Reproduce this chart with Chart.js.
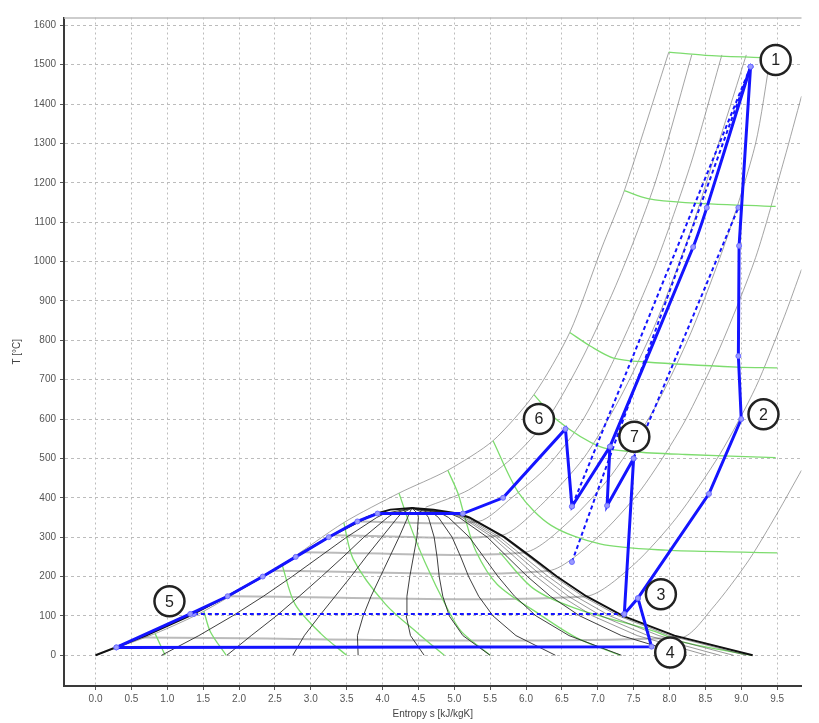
<!DOCTYPE html>
<html>
<head>
<meta charset="utf-8">
<script src="https://cdn.jsdelivr.net/npm/chart.js@4.4.1/dist/chart.umd.min.js"></script>
<style>
  html, body { margin: 0; padding: 0; background: #fff; }
  #wrap { width: 819px; height: 723px; }
</style>
</head>
<body>
<div id="wrap"><canvas id="ts" width="819" height="723"></canvas></div>
<script>
// ---- axis ticks ----
const xTicks = [0, 0.5, 1, 1.5, 2, 2.5, 3, 3.5, 4, 4.5, 5, 5.5, 6, 6.5, 7, 7.5, 8, 8.5, 9, 9.5];
const yTicks = [0, 100, 200, 300, 400, 500, 600, 700, 800, 900, 1000, 1100, 1200, 1300, 1400, 1500, 1600];

// ---- saturation dome (s in kJ/kgK, T in degC) ----
const domeS = [0.00, 0.70, 1.31, 1.84, 2.33, 2.79, 3.25, 3.78, 3.92, 4.11, 4.41, 4.71, 5.05, 5.21, 5.70, 6.07, 6.43, 6.84, 7.35, 8.07, 9.16];
const domeT = [0, 50, 100, 150, 200, 250, 300, 350, 360, 370, 374, 370, 360, 350, 300, 250, 200, 150, 100, 50, 0];

// ---- constant quality lines inside the dome ----
const qualT = [0, 50, 100, 150, 200, 250, 300, 350, 360, 374];
const q10S = [0.92, 1.44, 1.91, 2.34, 2.74, 3.12, 3.50, 3.92, 4.03, 4.41];
const q20S = [1.83, 2.17, 2.52, 2.84, 3.15, 3.45, 3.74, 4.07, 4.15, 4.41];
const q30S = [2.75, 2.91, 3.12, 3.34, 3.56, 3.77, 3.99, 4.21, 4.26, 4.41];
const q40S = [3.66, 3.65, 3.73, 3.84, 3.97, 4.10, 4.23, 4.35, 4.37, 4.41];
const q50S = [4.58, 4.39, 4.33, 4.34, 4.38, 4.43, 4.48, 4.50, 4.49, 4.41];
const q60S = [5.50, 5.12, 4.93, 4.84, 4.79, 4.76, 4.72, 4.64, 4.60, 4.41];
const q70S = [6.41, 5.86, 5.54, 5.34, 5.20, 5.09, 4.97, 4.78, 4.71, 4.41];
const q80S = [7.33, 6.60, 6.14, 5.84, 5.61, 5.41, 5.21, 4.92, 4.82, 4.41];
const q90S = [8.24, 7.33, 6.75, 6.34, 6.02, 5.74, 5.46, 5.07, 4.94, 4.41];
const q93S = [8.52, 7.55, 6.93, 6.49, 6.14, 5.84, 5.53, 5.11, 4.97, 4.41];
const q95S = [8.70, 7.70, 7.05, 6.59, 6.23, 5.91, 5.58, 5.14, 4.99, 4.41];
const q97S = [8.89, 7.85, 7.17, 6.69, 6.31, 5.97, 5.63, 5.17, 5.02, 4.41];
const q99S = [9.07, 8.00, 7.29, 6.79, 6.39, 6.04, 5.68, 5.20, 5.04, 4.41];

// ---- isobars (grey) ----
const p1S = [0.00, 0.83, 1.51, 2.60, 3.46, 4.23, 4.91, 5.54, 6.11, 6.61, 7.06, 7.37, 7.99];
const p1T = [0, 55, 112, 230, 337, 412, 470, 545, 662, 820, 1037, 1180, 1532];
const p2S = [4.60, 5.20, 5.80, 6.30, 6.80, 7.30, 7.80, 8.31];
const p2T = [376, 420, 500, 600, 760, 960, 1200, 1525];
const p3S = [3.66, 5.34, 5.80, 6.30, 6.80, 7.30, 7.80, 8.30, 8.73];
const p3T = [340, 340, 400, 480, 600, 780, 990, 1250, 1525];
const p4S = [3.30, 5.66, 6.20, 6.80, 7.30, 7.80, 8.30, 8.70, 9.07];
const p4T = [305, 305, 380, 500, 650, 840, 1080, 1310, 1525];
const p5S = [2.89, 5.99, 6.60, 7.20, 7.80, 8.30, 8.80, 9.20, 9.41];
const p5T = [262, 262, 340, 460, 630, 820, 1060, 1300, 1525];
const p6S = [2.47, 6.32, 7.00, 7.60, 8.20, 8.70, 9.20, 9.60, 9.84];
const p6T = [215, 215, 300, 420, 590, 780, 1010, 1260, 1420];
const p7S = [1.84, 6.84, 7.50, 8.10, 8.70, 9.20, 9.60, 9.84];
const p7T = [150, 150, 230, 350, 510, 680, 860, 980];
const p8S = [0.64, 8.16, 8.60, 9.10, 9.50, 9.84];
const p8T = [45, 45, 120, 240, 360, 470];

// ---- isenthalps (green) ----
const h1S = [7.99, 8.50, 9.27];
const h1T = [1532, 1524, 1518];
const h2S = [7.37, 7.70, 8.22, 9.48];
const h2T = [1180, 1160, 1150, 1140];
const h3S = [6.61, 6.90, 7.22, 7.67, 8.94, 9.50];
const h3T = [820, 785, 755, 745, 732, 730];
const h4S = [6.11, 6.45, 7.03, 7.50, 8.22, 9.48];
const h4T = [662, 595, 530, 517, 510, 502];
const h5S = [5.54, 5.90, 6.35, 7.03, 7.95, 9.03, 9.50];
const h5T = [545, 412, 330, 283, 267, 262, 260];
const h6S = [4.91, 5.05, 5.14, 5.30, 5.60, 6.18, 6.70, 7.31];
const h6T = [470, 412, 355, 265, 180, 105, 45, 0];
const h7S = [4.23, 4.37, 4.59, 4.90, 5.10, 5.50];
const h7T = [412, 337, 237, 120, 60, 0];
const h8S = [3.46, 3.59, 4.04, 4.50, 4.86];
const h8T = [337, 245, 130, 55, 0];
const h9S = [2.60, 2.78, 3.14, 3.50];
const h9T = [230, 130, 55, 0];
const h10S = [1.51, 1.60, 1.82];
const h10T = [112, 60, 0];
const h11S = [0.83, 0.97];
const h11T = [55, 0];
const h12S = [5.63, 6.10, 6.68, 7.77, 8.22, 9.14];
const h12T = [262, 170, 120, 62, 32, 0];

// ---- cycle (blue) ----
const cycleS = [0.29, 1.32, 1.84, 2.33, 2.79, 3.25, 3.65, 3.93, 5.12, 5.68, 6.55, 6.64, 7.17, 7.13, 7.50, 7.37, 7.56, 7.75, 0.29];
const cycleT = [20, 105, 150, 200, 250, 300, 340, 360, 360, 400, 575, 378, 530, 380, 500, 105, 145, 22, 20];
const heatS = [7.56, 8.55, 9.00, 8.96, 8.97, 9.13];
const heatT = [145, 410, 600, 760, 1040, 1495];
const expS = [9.13, 8.52, 8.33, 7.17];
const expT = [1495, 1137, 1037, 530];
const dashLowS = [1.37, 7.37];
const dashLowT = [105, 105];
const dashAS = [9.13, 6.64];
const dashAT = [1495, 378];
const dashCS = [6.64, 9.13];
const dashCT = [237, 1495];
const dashBS = [7.50, 8.96];
const dashBT = [500, 1137];

// ---- state labels ----
const stateNames = ['1', '2', '3', '4', '5', '6', '7'];
const stateS = [9.48, 9.31, 7.88, 8.01, 1.03, 6.18, 7.51];
const stateT = [1512, 612, 155, 7, 137, 600, 555];

const pts = (s, t) => s.map((v, i) => ({ x: v, y: t[i] }));

const line = (s, t, color, width, extra) => Object.assign({
  data: pts(s, t),
  showLine: true,
  borderColor: color,
  borderWidth: width,
  pointRadius: 0,
  fill: false,
  tension: 0
}, extra || {});

const GREY = 'rgba(125,125,125,0.7)';
const GREEN = '#7ddc6e';
const DARK = 'rgba(30,30,30,0.85)';
const BLUE = '#1414ff';

const datasets = [];

// labels on top (dataset 0 drawn last)
datasets.push({
  data: pts(stateS, stateT),
  showLine: false,
  pointRadius: 15,
  pointHoverRadius: 15,
  pointBackgroundColor: '#ffffff',
  pointBorderColor: '#222',
  pointBorderWidth: 2.5
});

// blue cycle
const blueMarks = { pointRadius: 2.5, pointBackgroundColor: '#9a9aff', pointBorderColor: '#6c6cff', pointBorderWidth: 1 };
const dashed = Object.assign({ borderDash: [4, 3] }, blueMarks);
datasets.push(line(cycleS, cycleT, BLUE, 3, blueMarks));
datasets.push(line(heatS, heatT, BLUE, 3, blueMarks));
datasets.push(line(expS, expT, BLUE, 3, Object.assign({}, blueMarks, { tension: 0.2 })));
datasets.push(line(dashLowS, dashLowT, BLUE, 2, dashed));
datasets.push(line(dashAS, dashAT, BLUE, 2, dashed));
datasets.push(line(dashCS, dashCT, BLUE, 2, dashed));
datasets.push(line(dashBS, dashBT, BLUE, 2, dashed));

// dome
datasets.push(line(domeS, domeT, '#111', 2));

// quality lines
[q10S, q20S, q30S, q40S, q50S, q60S, q70S, q80S, q90S].forEach(q => datasets.push(line(q, qualT, DARK, 1)));
[q93S, q95S, q97S, q99S].forEach(q => datasets.push(line(q, qualT, 'rgba(40,40,40,0.6)', 0.8)));

// isenthalps
[[h1S, h1T], [h2S, h2T], [h3S, h3T], [h4S, h4T], [h5S, h5T], [h6S, h6T], [h7S, h7T],
 [h8S, h8T], [h9S, h9T], [h10S, h10T], [h11S, h11T], [h12S, h12T]]
  .forEach(([s, t]) => datasets.push(line(s, t, GREEN, 1.3, { tension: 0.3 })));

// isobars: the flat wet-region part a bit wider and lighter
const wetSeg = { segment: { borderWidth: c => (c.p0.parsed.y === c.p1.parsed.y ? 2 : 1),
                            borderColor: c => (c.p0.parsed.y === c.p1.parsed.y ? 'rgba(170,170,170,0.8)' : GREY) } };
[[p1S, p1T], [p2S, p2T], [p3S, p3T], [p4S, p4T], [p5S, p5T], [p6S, p6T], [p7S, p7T], [p8S, p8T]]
  .forEach(([s, t]) => datasets.push(line(s, t, GREY, 1, Object.assign({ tension: 0.25 }, wetSeg))));

// numbers inside the state circles + light frame on top
const stateText = {
  id: 'stateText',
  afterDatasetsDraw(chart) {
    const { ctx, scales: { x, y }, chartArea } = chart;
    ctx.save();
    ctx.font = '16px "Liberation Sans", Arial, sans-serif';
    ctx.fillStyle = '#222';
    ctx.textAlign = 'center';
    ctx.textBaseline = 'middle';
    stateNames.forEach((n, i) => {
      ctx.fillText(n, x.getPixelForValue(stateS[i]), y.getPixelForValue(stateT[i]) + 1);
    });
    ctx.strokeStyle = '#bdbdbd';
    ctx.lineWidth = 1.5;
    ctx.beginPath();
    ctx.moveTo(chartArea.left, chartArea.top + 0.5);
    ctx.lineTo(chartArea.right, chartArea.top + 0.5);
    ctx.stroke();
    ctx.restore();
  }
};

const tickFont = { family: '"Liberation Sans", Arial, sans-serif', size: 10 };
const gridStyle = { color: '#bcbcbc', tickLength: 4, tickColor: '#555', tickBorderDash: [] };

new Chart(document.getElementById('ts'), {
  type: 'scatter',
  data: { datasets },
  options: {
    responsive: false,
    animation: false,
    devicePixelRatio: 1,
    layout: { padding: { top: 7, right: 0, left: 0, bottom: 0 } },
    plugins: { legend: { display: false }, tooltip: { enabled: false } },
    scales: {
      x: {
        type: 'linear',
        min: -0.44,
        max: 9.84,
        afterFit(scale) { scale.height = 37; },
        afterBuildTicks(scale) { scale.ticks = xTicks.map(v => ({ value: v })); },
        border: { display: true, color: '#3a3a3a', width: 2, dash: [2, 3] },
        grid: gridStyle,
        ticks: {
          padding: 3,
          color: '#555',
          font: tickFont,
          maxRotation: 0,
          autoSkip: false,
          callback: v => v.toFixed(1)
        },
        title: { display: true, text: 'Entropy s [kJ/kgK]', color: '#444', font: tickFont, padding: { top: 0, bottom: 3 } }
      },
      y: {
        type: 'linear',
        min: -78,
        max: 1620,
        afterFit(scale) { scale.width = 64; },
        afterBuildTicks(scale) { scale.ticks = yTicks.map(v => ({ value: v })); },
        border: { display: true, color: '#3a3a3a', width: 2, dash: [3, 3] },
        grid: gridStyle,
        ticks: {
          padding: 4,
          color: '#555',
          font: tickFont,
          autoSkip: false,
          callback: v => String(v)
        },
        title: { display: true, text: 'T [°C]', color: '#444', font: tickFont, padding: { top: 11, bottom: 0 } }
      }
    }
  },
  plugins: [stateText]
});
</script>
</body>
</html>
